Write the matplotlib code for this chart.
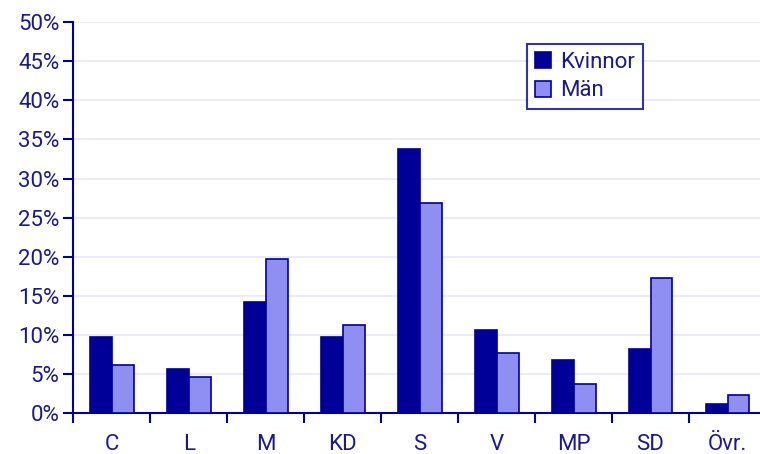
import numpy as np
import matplotlib.pyplot as plt
from matplotlib.ticker import FixedLocator

# Party shares by sex (percent)
parties = ["C", "L", "M", "KD", "S", "V", "MP", "SD", "Övr."]
kvinnor = [9.7, 5.6, 14.2, 9.7, 33.8, 10.6, 6.85, 8.2, 1.2]
man = [6.2, 4.6, 19.7, 11.3, 26.9, 7.75, 3.8, 17.3, 2.35]
yticks = [0, 5, 10, 15, 20, 25, 30, 35, 40, 45, 50]

navy = "#000099"
light = "#8f8ff2"
text_col = "#1a1a8c"

plt.rcParams['font.family'] = ['Roboto', 'DejaVu Sans']

fig = plt.figure(figsize=(7.6, 4.54), dpi=100)
ax = fig.add_axes([0.0964, 0.0896, 0.9115, 0.862])

x = np.arange(len(parties))
w = 0.285
ax.bar(x - w / 2, kvinnor, w, color=navy, edgecolor=navy, linewidth=1.2, label="Kvinnor", zorder=3)
ax.bar(x + w / 2, man, w, color=light, edgecolor=navy, linewidth=1.2, label="Män", zorder=3)

ax.set_xlim(-0.5, len(parties) - 0.5)
ax.set_ylim(0, 50)
ax.set_yticks(yticks)
ax.set_yticklabels([f"{t}%" for t in yticks])
ax.yaxis.grid(True, color="#ebebfa", linewidth=1.5, zorder=0)

# category boundaries get the tick marks, centres get the labels
ax.xaxis.set_major_locator(FixedLocator(np.arange(len(parties)) - 0.5))
ax.set_xticklabels([])
ax.xaxis.set_minor_locator(FixedLocator(x))
ax.set_xticklabels(parties, minor=True)
ax.tick_params(axis="x", which="major", length=7, width=1.5, color=navy, direction="out")
ax.tick_params(axis="x", which="minor", length=0, pad=15, labelsize=16, labelcolor=text_col)
ax.tick_params(axis="y", length=7, width=1.5, color=navy, labelsize=16, labelcolor=text_col, pad=3)

for side in ["top", "right"]:
    ax.spines[side].set_visible(False)
for side in ["left", "bottom"]:
    ax.spines[side].set_color(navy)
    ax.spines[side].set_linewidth(1.5)

leg = ax.legend(loc="upper left", bbox_to_anchor=(0.655, 0.944), borderaxespad=0,
                fancybox=False, frameon=True, fontsize=16, handlelength=0.75, handleheight=0.75,
                handletextpad=0.4, labelspacing=0.35, borderpad=0.35)
leg.get_frame().set_edgecolor(navy)
leg.get_frame().set_linewidth(1.5)
for t in leg.get_texts():
    t.set_color(text_col)

fig.savefig("out.png", dpi=100)
